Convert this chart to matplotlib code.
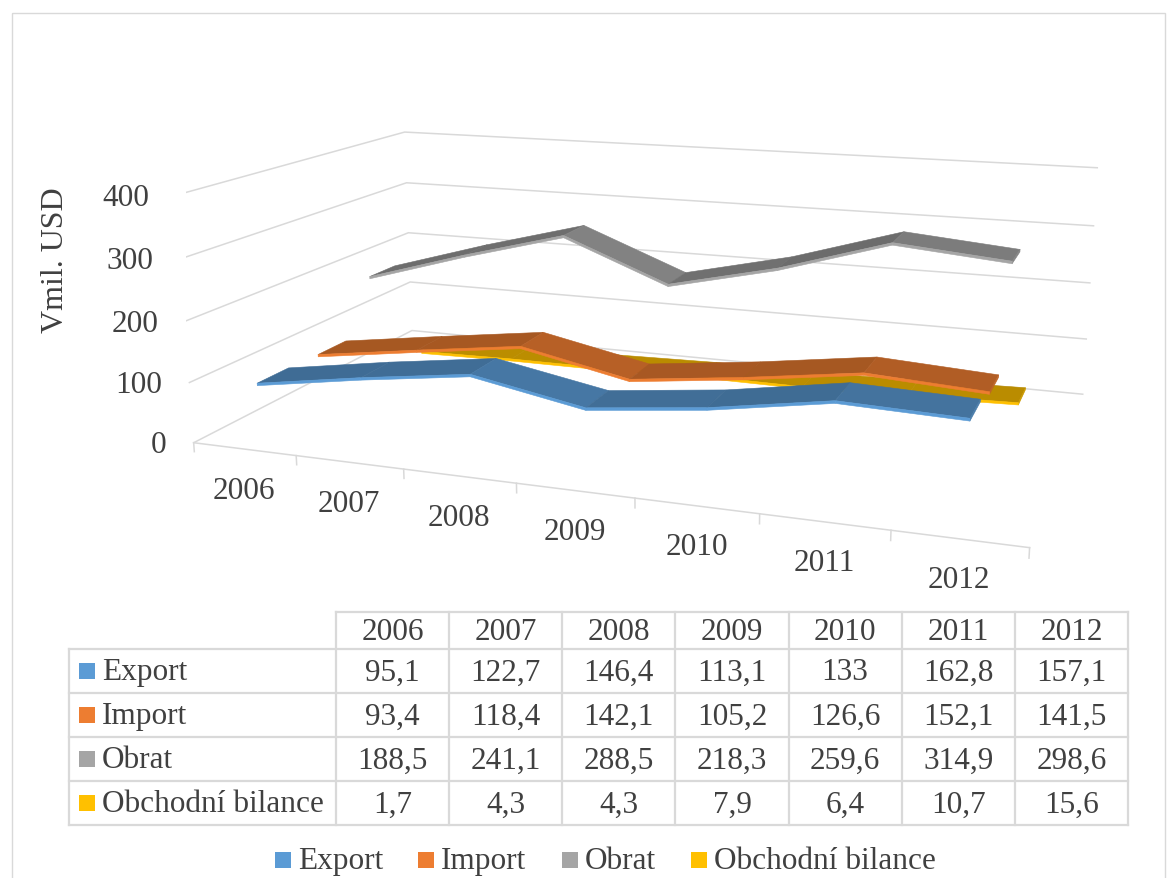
import numpy as np
import matplotlib
matplotlib.use('Agg')
import matplotlib.pyplot as plt
from mpl_toolkits.mplot3d import proj3d
from mpl_toolkits.mplot3d.art3d import Poly3DCollection
from matplotlib.patches import Rectangle

plt.rcParams['font.family'] = ['Liberation Serif', 'DejaVu Serif']

# ---------------- data ----------------
years = ['2006', '2007', '2008', '2009', '2010', '2011', '2012']
series_names = ['Export', 'Import', 'Obrat', 'Obchodní bilance']
export_vals = [95.1, 122.7, 146.4, 113.1, 133, 162.8, 157.1]
import_vals = [93.4, 118.4, 142.1, 105.2, 126.6, 152.1, 141.5]
obrat_vals = [188.5, 241.1, 288.5, 218.3, 259.6, 314.9, 298.6]
bilance_vals = [1.7, 4.3, 4.3, 7.9, 6.4, 10.7, 15.6]
series_colors = ['#5B9BD5', '#ED7D31', '#A5A5A5', '#FFC000']
value_ticks = [0, 100, 200, 300, 400]
y_label = 'Vmil. USD'

data = [export_vals, import_vals, obrat_vals, bilance_vals]
n = len(years)
ns = len(series_names)

W, H = 1171, 879
fig = plt.figure(figsize=(W / 100, H / 100), dpi=100)
txt_c = '#404040'
grid_c = '#D9D9D9'
fs = 22.5

# ---------------- 3D chart ----------------
elev, azim, focal, ay, az = 13.799, -70.61, float(np.exp(-1.108)), 0.565, 0.305
ax = fig.add_axes([0.1588, 0.1182, 0.7865, 1.0478], projection='3d', computed_zorder=False)
ax.set_xlim(0, n); ax.set_ylim(0, ns); ax.set_zlim(0, max(value_ticks))
ax.view_init(elev=elev, azim=azim)
ax.set_proj_type('persp', focal_length=focal)
ax.set_box_aspect((1, ay, az))
ax.set_axis_off()

for v in value_ticks:
    ax.plot([0, 0, n], [0, ns, ns], [v, v, v], color=grid_c, lw=1.1, zorder=1)
ax.plot([0, n], [0, 0], [0, 0], color=grid_c, lw=1.1, zorder=1)
for i in range(n + 1):
    ax.plot([i, i], [0, 0], [0, -15], color=grid_c, lw=1.1, zorder=1)

polys, cols = [], []
L = np.array([0.45, -0.2, 0.87]); L /= np.linalg.norm(L)
for k, (vals, col) in enumerate(zip(data, series_colors)):
    base = np.array(matplotlib.colors.to_rgb(col))
    y0, y1 = k + 0.25, k + 0.75
    th = 4
    xs = np.arange(n) + 0.5
    for i in range(n - 1):
        xa, xb, va, vb = xs[i], xs[i + 1], vals[i], vals[i + 1]
        slope = (vb - va) / max(value_ticks) * az * n
        nrm = np.array([-slope, 0, 1.0]); nrm /= np.linalg.norm(nrm)
        sh = 0.30 + 0.5 * max(0, nrm @ L)
        polys.append([(xa, y0, va), (xb, y0, vb), (xb, y1, vb), (xa, y1, va)])
        cols.append(np.clip(base * sh, 0, 1))
        polys.append([(xa, y0, va), (xb, y0, vb), (xb, y0, vb - th), (xa, y0, va - th)])
        cols.append(base)
    polys.append([(xs[-1], y0, vals[-1]), (xs[-1], y1, vals[-1]),
                  (xs[-1], y1, vals[-1] - th), (xs[-1], y0, vals[-1] - th)])
    cols.append(np.clip(base * 0.8, 0, 1))
pc = Poly3DCollection(polys, facecolors=cols, edgecolors=cols, linewidths=0.4, zorder=2)
ax.add_collection3d(pc)

# ---------------- overlay (pixel coordinates) ----------------
ov = fig.add_axes([0, 0, 1, 1], zorder=5)
ov.set_xlim(0, W); ov.set_ylim(H, 0); ov.axis('off'); ov.patch.set_alpha(0)

fig.canvas.draw()
M = ax.get_proj()

def to_px(x, y, z):
    px, py, _ = proj3d.proj_transform(np.atleast_1d(float(x)), np.atleast_1d(float(y)),
                                      np.atleast_1d(float(z)), M)
    d = ax.transData.transform(np.c_[px, py])[0]
    return d[0], H - d[1]

for v in value_ticks:
    px, py = to_px(0, 0, v)
    ov.text(px - 27, py + 2, str(v), ha='right', va='center', fontsize=fs, color=txt_c)
for i, yr in enumerate(years):
    px, py = to_px(i + 0.5, 0, 0)
    ov.text(px, py + 41, yr, ha='center', va='center', fontsize=fs, color=txt_c)
ov.text(56, 260, y_label, rotation=90, ha='center', va='center', fontsize=fs + 0.5, color=txt_c)

# outer chart border
ov.add_patch(Rectangle((12, 14), 1153, 900, fill=False, ec=grid_c, lw=1))

# ---------------- data table ----------------
tab_left, tab_x0, tab_x1 = 69, 336, 1128
head_top, head_bot, row_h = 613, 650, 44
col_w = (tab_x1 - tab_x0) / n
rows_bot = head_bot + row_h * ns
tlw = 1.6
ov.plot([tab_x0, tab_x1], [head_top, head_top], color=grid_c, lw=tlw)
for j in range(n + 1):
    xx = tab_x0 + j * col_w
    ov.plot([xx, xx], [head_top, rows_bot], color=grid_c, lw=tlw)
for r in range(ns + 1):
    yy = head_bot + r * row_h
    ov.plot([tab_left, tab_x1], [yy, yy], color=grid_c, lw=tlw)
ov.plot([tab_left, tab_left], [head_bot, rows_bot], color=grid_c, lw=tlw)

def fmt(v):
    return ('%g' % v).replace('.', ',')

for j, yr in enumerate(years):
    ov.text(tab_x0 + (j + 0.5) * col_w, (head_top + head_bot) / 2 + 1, yr,
            ha='center', va='center', fontsize=fs, color=txt_c)
for r, (name, vals, col) in enumerate(zip(series_names, data, series_colors)):
    yc = head_bot + (r + 0.5) * row_h
    ov.add_patch(Rectangle((79, yc - 8), 16, 16, color=col, lw=0))
    ov.text(102, yc + 1, name, ha='left', va='center', fontsize=fs, color=txt_c)
    for j, v in enumerate(vals):
        ov.text(tab_x0 + (j + 0.5) * col_w, yc + 1, fmt(v), ha='center', va='center',
                fontsize=fs, color=txt_c)

# ---------------- legend ----------------
renderer = fig.canvas.get_renderer()
lx, ly = 275, 861
for name, col in zip(series_names, series_colors):
    ov.add_patch(Rectangle((lx, ly - 8), 16, 16, color=col, lw=0))
    t = ov.text(lx + 23, ly + 1, name, ha='left', va='center', fontsize=fs, color=txt_c)
    wpx = t.get_window_extent(renderer).width
    lx = lx + 23 + wpx + 35

fig.savefig('out.png', dpi=100)
